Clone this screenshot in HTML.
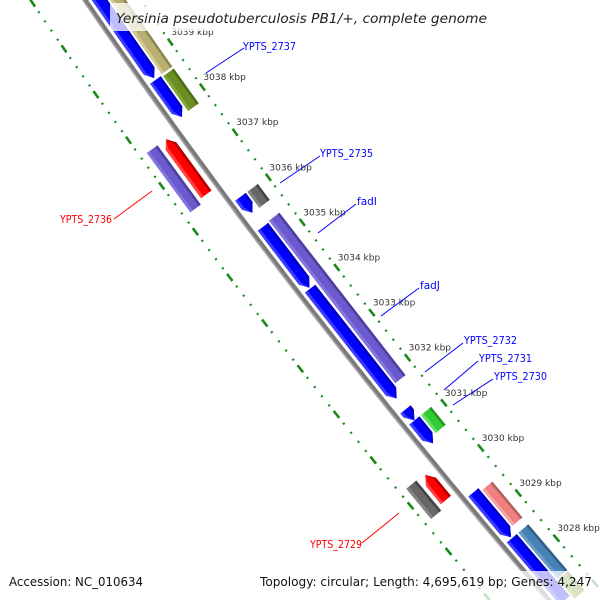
<!DOCTYPE html>
<html><head><meta charset="utf-8"><style>
html,body{margin:0;padding:0;background:#fff;width:600px;height:600px;overflow:hidden;}
svg{display:block;overflow:hidden;}
text{font-family:"DejaVu Sans","Liberation Sans",sans-serif;}
</style></head><body>
<svg id="s" width="600" height="600" viewBox="0 0 600 600" overflow="hidden" xmlns="http://www.w3.org/2000/svg">
<g id="g"></g>
<g id="lbl">
<g stroke-width="1">
<line x1="244" y1="48" x2="206" y2="73" stroke="#0000ff"/>
<line x1="320" y1="156" x2="280" y2="183" stroke="#0000ff"/>
<line x1="356" y1="204" x2="318" y2="233" stroke="#0000ff"/>
<line x1="419" y1="288" x2="381" y2="316" stroke="#0000ff"/>
<line x1="463" y1="343" x2="425" y2="372" stroke="#0000ff"/>
<line x1="478" y1="361" x2="444" y2="390" stroke="#0000ff"/>
<line x1="493" y1="379" x2="453" y2="405" stroke="#0000ff"/>
<line x1="114" y1="219" x2="152" y2="191" stroke="#ff0000"/>
<line x1="362" y1="543" x2="399" y2="513" stroke="#ff0000"/>
</g>
<g font-size="10.5">
<text x="243" y="50" fill="#0000ff" textLength="53" lengthAdjust="spacingAndGlyphs">YPTS_2737</text>
<text x="320" y="157" fill="#0000ff" textLength="53" lengthAdjust="spacingAndGlyphs">YPTS_2735</text>
<text x="357" y="205" fill="#0000ff">fadI</text>
<text x="420" y="289" fill="#0000ff">fadJ</text>
<text x="464" y="344" fill="#0000ff" textLength="53" lengthAdjust="spacingAndGlyphs">YPTS_2732</text>
<text x="479" y="362" fill="#0000ff" textLength="53" lengthAdjust="spacingAndGlyphs">YPTS_2731</text>
<text x="494" y="380" fill="#0000ff" textLength="53" lengthAdjust="spacingAndGlyphs">YPTS_2730</text>
<text x="60" y="223" fill="#ff0000" textLength="52" lengthAdjust="spacingAndGlyphs">YPTS_2736</text>
<text x="310" y="548" fill="#ff0000" textLength="52" lengthAdjust="spacingAndGlyphs">YPTS_2729</text>
</g>
<rect x="110" y="3" width="385" height="28" fill="#fff" fill-opacity="0.75"/>
<text x="116" y="23" font-size="13" font-style="italic" fill="#222" textLength="371" lengthAdjust="spacingAndGlyphs">Yersinia pseudotuberculosis PB1/+, complete genome</text>
<rect x="255" y="571" width="345" height="29" fill="#fff" fill-opacity="0.75"/>
<rect x="3" y="571" width="150" height="29" fill="#fff" fill-opacity="0.75"/>
<text x="9" y="586" font-size="12" fill="#111" textLength="134" lengthAdjust="spacingAndGlyphs">Accession: NC_010634</text>
<text x="260" y="586" font-size="12" fill="#111" textLength="332" lengthAdjust="spacingAndGlyphs">Topology: circular; Length: 4,695,619 bp; Genes: 4,247</text>
</g>
</svg>
<script>
(function(){
var NS="http://www.w3.org/2000/svg";
var g=document.getElementById("g");
function B(fy){var t=fy/598;var x=85*(1-t)*(1-t)+580*t*(1-t)+547*t*t;
var dx=2*(1-t)*205+2*t*257,dy=598;var L=Math.sqrt(dx*dx+dy*dy);dx/=L;dy/=L;
return {x:x,y:fy,nx:dy,ny:-dx,dx:dx,dy:dy};}
function P(fy,off){var b=B(fy);return [b.x+off*b.nx,b.y+off*b.ny];}
function el(n,a){var e=document.createElementNS(NS,n);for(var k in a)e.setAttribute(k,a[k]);g.appendChild(e);return e;}
function poly(pts,fill){el("polygon",{points:pts.map(function(p){return p[0].toFixed(1)+","+p[1].toFixed(1)}).join(" "),fill:fill});}
var pts=[],pts2=[];for(var y=-5;y<=605;y+=5){pts.push(P(y,0));pts2.push(P(y,-1.8));}
function pl(p,c,w){el("polyline",{points:p.map(function(q){return q[0].toFixed(1)+","+q[1].toFixed(1)}).join(" "),fill:"none",stroke:c,"stroke-width":w});}
pl(pts,"#7a7a7a",5);pl(pts2,"#aaaaaa",1.5);
function fyk(k){return 114+(3038-k)*45.4;}
for(var i=3026*5;i<=3041*5;i++){var k=i/5;var fy=fyk(k);var major=(i%5==0);
[46,-45].forEach(function(off){var a=P(fy-(major?3.5:0.8),off),b=P(fy+(major?3.5:0.8),off);
if(a[1]<-5||a[1]>605||a[0]>605)return;
el("line",{x1:a[0],y1:a[1],x2:b[0],y2:b[1],stroke:"#1a8a1a","stroke-width":major?2.6:2.2});});
if(major){var tp=P(fy,46);if(tp[0]>560||tp[1]<0)continue;var t=document.createElementNS(NS,"text");t.setAttribute("x",(tp[0]+1).toFixed(1));t.setAttribute("y",(tp[1]-7).toFixed(1));
t.setAttribute("font-size","9");t.setAttribute("fill","#333");t.textContent=k+" kbp";g.appendChild(t);}}
var C={blue:["#0000ff","#3a3aff","#0000c0"],khaki:["#b8b070","#cfc895","#8a8550"],olive:["#6b8e23","#82a535","#4d6a18"],
gray:["#676767","#858585","#444"],purple:["#6a5acd","#8474e0","#4a3fa0"],red:["#ff0000","#ff4040","#b00000"],
green:["#32cd32","#66e066","#229922"],pink:["#f08080","#f5a5a5","#b06060"],steel:["#4682b4","#6a9cc8","#2f5f88"]};
function gene(f1,f2,o,col,arrow){var h=6.5,c=C[col],a=7;
var s1=f1,s2=f2;
function shape(lo,hi){var p=[];
if(arrow=="end"){p=[P(s1,lo),P(s2-a,lo),P(s2,o),P(s2-a,hi),P(s1,hi)];}
else if(arrow=="start"){p=[P(s1+a,lo),P(s2,lo),P(s2,hi),P(s1+a,hi),P(s1,o)];}
else p=[P(s1,lo),P(s2,lo),P(s2,hi),P(s1,hi)];return p;}
poly(shape(o-h,o+h),c[0]);
poly(shape(o-h,o-h+3),c[1]);poly(shape(o+h-2.5,o+h),c[2]);}
gene(-5,85,12,"blue","end");
gene(87,124,12,"blue","end");
gene(204,220,12,"blue","end");
gene(234,295,12,"blue","end");
gene(296,406,12,"blue","end");
gene(417,428,12,"blue","end");
gene(428,451,12,"blue","end");
gene(500,545,12,"blue","end");
gene(546,608,12,"blue");
gene(-5,86,27,"khaki");
gene(88,123,27,"olive");
gene(204,220,27,"gray");
gene(233,396,27,"purple");
gene(428,446,27,"green");
gene(503,539,27,"pink");
gene(546,592,27,"steel");
gene(593,612,27,"olive");
gene(131,186,-14,"red","start");
gene(131,190,-31,"purple");
gene(466,491,-14,"red","start");
gene(465,495,-31,"gray");
})();
</script>
</body></html>
